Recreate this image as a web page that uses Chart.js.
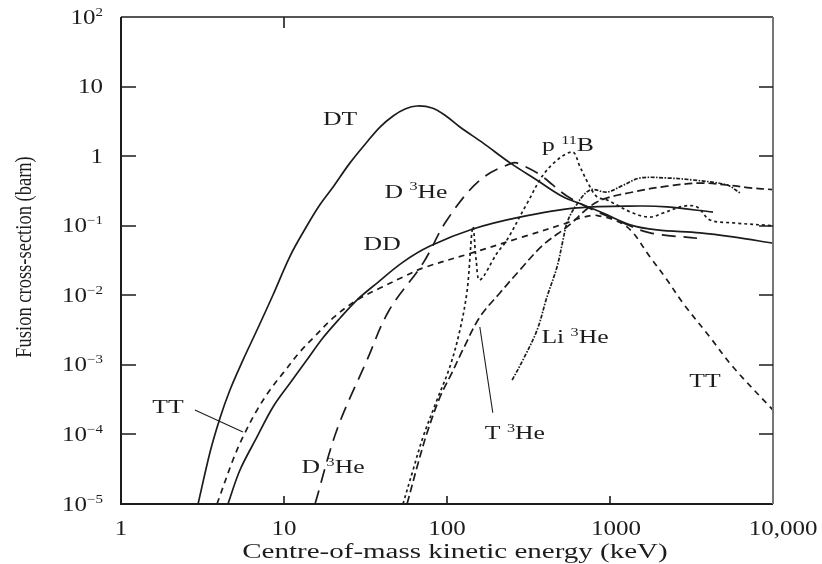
<!DOCTYPE html>
<html>
<head>
<meta charset="utf-8">
<script src="https://cdn.jsdelivr.net/npm/chart.js@4"></script>
<style>
  body { margin: 0; background: #fff; }
  #wrap { width: 822px; height: 564px; }
</style>
</head>
<body>
<div id="wrap"><canvas id="chart" width="822" height="564"></canvas></div>
<script>
// cross-section data (energy in keV, sigma in barn)
const dtEnergy = [2.97, 3.52, 4.05, 4.66, 5.6, 6.83, 8.56, 10.9, 13.8, 16.6, 20, 25.4, 32.3, 38.8, 46.7, 55.3, 65.5, 81, 98.6, 120, 166, 244, 357, 515, 683, 906, 1327, 1943, 3565, 5690, 10000];
const dtSigma = [1e-5, 5.58e-5, 1.72e-4, 4.35e-4, 1.17e-3, 3.17e-3, 0.0101, 0.0367, 0.099, 0.2, 0.36, 0.8, 1.6, 2.62, 3.78, 4.76, 5.26, 4.92, 3.78, 2.62, 1.55, 0.8, 0.45, 0.26, 0.2, 0.152, 0.103, 0.087, 0.079, 0.069, 0.056];

const ddEnergy = [4.53, 5.37, 6.83, 8.56, 10.9, 13.8, 17.3, 22.1, 28, 37.2, 53.7, 78.7, 144, 280, 628, 1528, 2240, 4285];
const ddSigma = [1e-5, 3.08e-5, 9.2e-5, 2.48e-4, 5.48e-4, 1.17e-3, 2.43e-3, 4.72e-3, 8.55e-3, 0.015, 0.030, 0.051, 0.0897, 0.133, 0.18, 0.192, 0.186, 0.157];

const ttEnergy = [3.88, 4.86, 5.6, 6.83, 8.2, 9.86, 12.5, 15.1, 20, 28, 38.8, 53.7, 71.3, 144, 292, 545, 655, 840, 1271, 1760, 2240, 2805, 4105, 5690, 10000];
const ttSigma = [1e-5, 4.28e-5, 9.2e-5, 2.24e-4, 4.35e-4, 7.6e-4, 1.53e-3, 2.43e-3, 4.72e-3, 8.55e-3, 0.0127, 0.0183, 0.0247, 0.041, 0.069, 0.11, 0.129, 0.14, 0.096, 0.0355, 0.0166, 7.7e-3, 2.5e-3, 9.3e-4, 2.24e-4];

const d3heEnergy = [15.5, 21.1, 32.3, 44, 71.3, 100, 159, 254, 290, 372, 569, 1200, 1760, 3420];
const d3heSigma = [1e-5, 1.16e-4, 1.17e-3, 6e-3, 0.029, 0.121, 0.45, 0.8, 0.74, 0.54, 0.25, 0.11, 0.079, 0.066];

const p11bEnergy = [53.7, 61.9, 71.3, 86.8, 104, 120, 133, 144, 151, 159, 203, 233, 310, 410, 585, 655, 733, 832, 959, 1384, 1760, 2115, 2805, 3420, 4105, 5690, 10000];
const p11bSigma = [1e-5, 3.08e-5, 9.2e-5, 3.13e-4, 9.3e-4, 3.16e-3, 0.0119, 0.096, 0.032, 0.0166, 0.0405, 0.062, 0.21, 0.63, 1.15, 0.7, 0.41, 0.26, 0.234, 0.152, 0.133, 0.152, 0.19, 0.186, 0.121, 0.11, 0.1];

const t3heEnergy = [56.9, 65.5, 75.4, 90.6, 107, 125, 159, 211, 280, 388, 545, 832, 1384, 2240, 3565, 5220, 7230, 10000];
const t3heSigma = [1e-5, 3.4e-5, 1.05e-4, 3.45e-4, 7.6e-4, 1.64e-3, 4.87e-3, 0.0108, 0.0231, 0.0528, 0.096, 0.219, 0.305, 0.37, 0.41, 0.385, 0.35, 0.33];

const li3heEnergy = [251, 292, 357, 410, 473, 515, 545, 610, 754, 959, 1200, 1528, 2240, 3230, 5220, 6280];
const li3heSigma = [6.05e-4, 1.17e-3, 3.17e-3, 9.4e-3, 0.0255, 0.0624, 0.11, 0.186, 0.326, 0.305, 0.38, 0.485, 0.485, 0.454, 0.385, 0.295];

// axis ticks
const xTickValues = [1, 10, 100, 1000, 10000];
const xTickLabels = ['1', '10', '100', '1000', '10,000'];
const yTickExponents = [2, 1, 0, -1, -2, -3, -4, -5];

// curve labels (anchored at data coordinates)
const curveLabels = [
    { parts: [['DT']], x: 22.1, y: 3.5 },
    { parts: [['D '], ['3', true], ['He']], x: 64.5, y: 0.31 },
    { parts: [['DD']], x: 40, y: 0.056 },
    { parts: [['p '], ['11', true], ['B']], x: 552, y: 1.45 },
    { parts: [['Li '], ['3', true], ['He']], x: 610, y: 2.5e-3 },
    { parts: [['T '], ['3', true], ['He']], x: 261, y: 1.05e-4 },
    { parts: [['D '], ['3', true], ['He']], x: 20, y: 3.4e-5 },
    { parts: [['TT']], x: 1.94, y: 2.5e-4 },
    { parts: [['TT']], x: 3820, y: 6e-4 }
];
const pointerLines = [
    [2.84, 2.24e-4, 5.6, 1.08e-4],
    [159, 3.5e-3, 191, 2.05e-4]
];

const INK = '#1c1c1c';
const SERIF = '"Liberation Serif", "Times New Roman", serif';

function zip(xs, ys) {
    return xs.map((x, i) => ({ x: x, y: ys[i] }));
}

function series(label, xs, ys, dash) {
    return {
        label: label,
        data: zip(xs, ys),
        borderColor: INK,
        borderWidth: 1.7,
        borderDash: dash,
        pointRadius: 0,
        fill: false,
        tension: 0.35
    };
}

// draws text made of normal / superscript pieces, stretched like the scan
function drawParts(ctx, parts, x, y, size, align, sx, sy, rot) {
    ctx.save();
    ctx.translate(x, y);
    if (rot) ctx.rotate(rot);
    ctx.scale(sx, sy);
    ctx.fillStyle = INK;
    ctx.textBaseline = 'alphabetic';
    const fontFor = sup => (sup ? Math.round(size * 0.62) : size) + 'px ' + SERIF;
    let total = 0;
    const widths = parts.map(p => {
        ctx.font = fontFor(p[1]);
        const w = ctx.measureText(p[0]).width;
        total += w;
        return w;
    });
    let cx = align === 'center' ? -total / 2 : align === 'right' ? -total : 0;
    parts.forEach((p, i) => {
        ctx.font = fontFor(p[1]);
        ctx.fillText(p[0], cx, p[1] ? -size * 0.4 + size * 0.33 : size * 0.33);
        cx += widths[i];
    });
    ctx.restore();
}

const framePlugin = {
    id: 'frame',
    afterDatasetsDraw(chart) {
        const { ctx, chartArea: a, scales } = chart;
        const xs = scales.x, ys = scales.y;
        ctx.save();
        ctx.lineCap = 'butt';

        // box
        ctx.strokeStyle = INK;
        ctx.lineWidth = 2;
        ctx.beginPath();
        ctx.moveTo(a.left, a.top); ctx.lineTo(a.left, a.bottom); ctx.lineTo(a.right, a.bottom);
        ctx.stroke();
        ctx.lineWidth = 1.5;
        ctx.beginPath();
        ctx.moveTo(a.left, a.top); ctx.lineTo(a.right, a.top);
        ctx.stroke();
        ctx.strokeStyle = '#777';
        ctx.lineWidth = 2;
        ctx.beginPath();
        ctx.moveTo(a.right, a.top); ctx.lineTo(a.right, a.bottom);
        ctx.stroke();

        // ticks, pointing inward
        ctx.strokeStyle = INK;
        ctx.lineWidth = 1.6;
        ctx.beginPath();
        yTickExponents.forEach(e => {
            const py = Math.round(ys.getPixelForValue(Math.pow(10, e)));
            if (e < 2 && e > -5) {
                ctx.moveTo(a.left, py); ctx.lineTo(a.left + 15, py);
                ctx.moveTo(a.right, py); ctx.lineTo(a.right - 14, py);
            }
        });
        xTickValues.forEach(v => {
            if (v > 1 && v < 10000) {
                const px = Math.round(xs.getPixelForValue(v));
                ctx.moveTo(px, a.bottom); ctx.lineTo(px, a.bottom - 8);
            }
        });
        const topTick = Math.round(xs.getPixelForValue(10));
        ctx.moveTo(topTick, a.top); ctx.lineTo(topTick, a.top + 11);
        ctx.stroke();

        // tick labels
        yTickExponents.forEach(e => {
            const py = ys.getPixelForValue(Math.pow(10, e));
            let parts;
            if (e === 0) parts = [['1']];
            else if (e === 1) parts = [['10']];
            else parts = [['10'], [(e < 0 ? '\u2212' : '') + Math.abs(e), true]];
            drawParts(ctx, parts, a.left - 18, py, 20, 'right', 1.25, 1);
        });
        xTickValues.forEach((v, i) => {
            const px = xs.getPixelForValue(v);
            drawParts(ctx, [[xTickLabels[i]]], px + (i > 2 ? 6 + (i - 3) * 4 : 0), a.bottom + 24, 20, 'center', 1.25, 1);
        });

        // axis titles
        drawParts(ctx, [['Centre-of-mass kinetic energy (keV)']], (a.left + a.right) / 2 + 8, a.bottom + 47, 20, 'center', 1.45, 1);
        drawParts(ctx, [['Fusion cross-section (barn)']], 23, 257, 18.5, 'center', 1, 1.3, -Math.PI / 2);

        // curve labels and pointers
        ctx.strokeStyle = INK;
        ctx.lineWidth = 1.1;
        ctx.beginPath();
        pointerLines.forEach(l => {
            ctx.moveTo(xs.getPixelForValue(l[0]), ys.getPixelForValue(l[1]));
            ctx.lineTo(xs.getPixelForValue(l[2]), ys.getPixelForValue(l[3]));
        });
        ctx.stroke();
        curveLabels.forEach(l => {
            drawParts(ctx, l.parts, xs.getPixelForValue(l.x), ys.getPixelForValue(l.y), 19, 'center', 1.35, 1);
        });
        ctx.restore();
    }
};

new Chart(document.getElementById('chart'), {
    type: 'line',
    data: {
        datasets: [
            series('DT', dtEnergy, dtSigma, []),
            series('DD', ddEnergy, ddSigma, []),
            series('TT', ttEnergy, ttSigma, [6, 5]),
            series('D3He', d3heEnergy, d3heSigma, [14, 8]),
            series('p11B', p11bEnergy, p11bSigma, [3, 3]),
            series('T3He', t3heEnergy, t3heSigma, [8, 4]),
            series('Li3He', li3heEnergy, li3heSigma, [4, 1.5, 1.5, 1.5])
        ]
    },
    plugins: [framePlugin],
    options: {
        responsive: false,
        animation: false,
        layout: { padding: { left: 121, right: 49, top: 17, bottom: 60 } },
        plugins: { legend: { display: false }, tooltip: { enabled: false } },
        scales: {
            x: { type: 'logarithmic', min: 1, max: 10000, display: false },
            y: { type: 'logarithmic', min: 1e-5, max: 100, display: false }
        }
    }
});
</script>
</body>
</html>
